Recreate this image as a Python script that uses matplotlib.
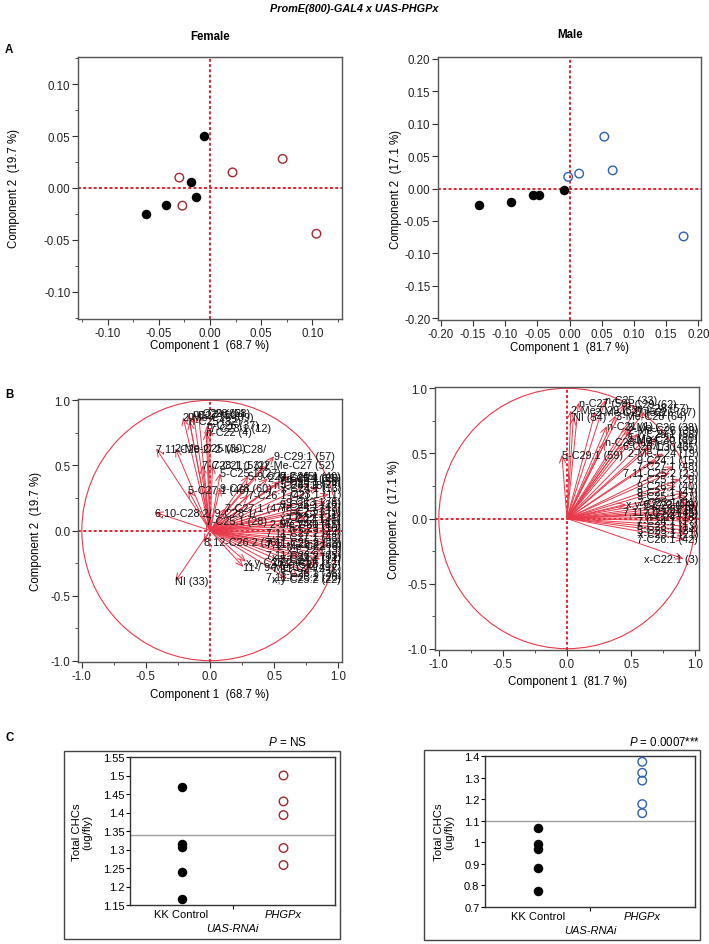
import numpy as np
import matplotlib
matplotlib.use("Agg")
import matplotlib.pyplot as plt
from matplotlib.patches import Rectangle, Circle
from matplotlib.ticker import MultipleLocator, FormatStrFormatter

plt.rcParams['font.family'] = ['Liberation Sans', 'DejaVu Sans']
plt.rcParams['mathtext.fontset'] = 'custom'
plt.rcParams['mathtext.it'] = 'Liberation Sans:italic'
plt.rcParams['mathtext.rm'] = 'Liberation Sans'

# ---- A: PCA scores ----
fem_ctrl_pc1 = [-0.063, -0.043, -0.019, -0.014, -0.006]
fem_ctrl_pc2 = [-0.025, -0.016, 0.006, -0.009, 0.050]
fem_rnai_pc1 = [-0.030, -0.027, 0.022, 0.071, 0.104]
fem_rnai_pc2 = [0.010, -0.017, 0.015, 0.028, -0.044]
male_ctrl_pc1 = [-0.140, -0.090, -0.056, -0.047, -0.008]
male_ctrl_pc2 = [-0.026, -0.021, -0.010, -0.010, -0.003]
male_rnai_pc1 = [-0.002, 0.015, 0.054, 0.067, 0.177]
male_rnai_pc2 = [0.018, 0.023, 0.080, 0.028, -0.074]
fem_var = [68.7, 19.7]
male_var = [81.7, 17.1]

# ---- B: loadings ----
fem_load_labels = [
    "n-C27 (50)", "n-C29 (62)", "2-Me-C26 (39)", "n-C25 (32)", "n-C28 (58)",
    "n-C26 (37)", "7-C23:1 (12)", "n-C22 (4)", "7,11-C29:2/ 2-Me-C28/",
    "2-Me-C25 (30)", "9-C29:1 (57)", "7-C28:1 (53)", "7-C21:1 (2)",
    "2-Me-C27 (52)", "5-C25:1 (27)", "5,9-C27:2 (45)", "2-Me-C24 (19)",
    "7-C29:1 (56)", "n-C24 (18)", "5-C27:1 (46)", "9-C28 (60)",
    "7-C26:1 (42)", "6,10-C28:2/ 9-C28:1/", "7-C25:1 (28)", "7-C27:1 (47)",
    "9-C25:1 (26)", "5-C23:1 (9)", "8,12-C26:2 (36)", "NI (33)",
    "x,y-C26:2 (41)", "11-/ 9-Me-C27 (49)",
    "7-C23:1 (11)", "9-C23:1 (8)", "7-C24:1 (17)", "n-C21 (1)",
    "7-C22:1 (5)", "9-C24:1 (15)", "n-C23 (10)", "7,11-C27:2 (44)",
    "9-C27:1 (48)", "7,11-C25:2 (23)", "2-Me-C22 (6)", "x-C22:1 (3)",
    "7,11-C26:2 (35)", "5-C24:1 (14)", "2-Me-C23 (13)", "7,11-C24:2 (7)",
    "5-C26:1 (38)", "7,11-C23:2 (20)", "x,y-C25:2 (22)", "x-C24:1 (16)",
    "5-C25:1 (24)", "7-C25:1 (25)", "9-C26:1 (40)", "2-Me-C30 (61)",
    "7,11-C28:2 (55)", "x-C23:1 (21)", "x,y-C27:2 (51)",
]
fem_load_x = [
    -0.17, -0.13, -0.21, -0.16, -0.09,
    -0.02, 0.00, -0.03, -0.42,
    -0.27, 0.50, -0.06, 0.02,
    0.42, 0.08, 0.30, 0.45,
    0.55, 0.50, -0.17, 0.08,
    0.30, -0.43, -0.03, 0.12,
    0.65, 0.70, -0.05, -0.27,
    0.28, 0.26,
    0.93, 0.90, 0.95, 0.92,
    0.96, 0.94, 0.97, 0.93,
    0.95, 0.91, 0.93, 0.88,
    0.90, 0.86, 0.84, 0.80,
    0.78, 0.70, 0.60, 0.85,
    0.78, 0.70, 0.62, 0.60,
    0.55, 0.75, 0.70,
]
fem_load_y = [
    0.89, 0.90, 0.87, 0.84, 0.90,
    0.81, 0.79, 0.76, 0.63,
    0.63, 0.57, 0.50, 0.50,
    0.50, 0.44, 0.42, 0.40,
    0.38, 0.35, 0.31, 0.33,
    0.27, 0.14, 0.07, 0.17,
    0.20, 0.15, -0.09, -0.39,
    -0.24, -0.28,
    0.28, 0.22, 0.18, 0.13,
    0.09, 0.05, 0.02, -0.02,
    -0.05, -0.09, -0.12, -0.15,
    -0.19, -0.22, -0.26, -0.29,
    -0.33, -0.36, -0.37, 0.33,
    0.36, 0.40, 0.42, 0.05,
    -0.10, 0.10, -0.20,
]

male_load_labels = [
    "n-C27 (50)", "n-C25 (33)", "2-Me-C29 (63)", "NI (54)", "n-C29 (62)",
    "n-C28 (57)", "n-C26 (37)", "3-Me-C28 (64)", "2-Me-C27 (52)",
    "n-C21 (1)", "2-Me-C26 (38)", "2-Me-C26 (39)", "n-C23 (14)",
    "6-C26:1/ i (43)", "5-C29:1 (59)", "7-C27:1 (48)", "7-C25:1 (29)",
    "9-C27:1 (47)", "9-C25:1 (27)", "x,y-C27:2 (44)", "7-C23:1 (11)",
    "9-C23:1 (8)", "n-C22 (4)", "7-C22:1 (5)", "n-C24 (18)",
    "7-C24:1 (17)", "5-C23:1 (13)", "5-C25:1 (24)", "7-C26:1 (42)",
    "x-C22:1 (3)", "2-Me-C24 (19)", "9-C24:1 (15)", "7,11-C25:2 (23)",
    "n-C30 (65)", "2-Me-C30 (61)", "7-C29:1 (56)", "2-Me-C25 (30)",
    "9-C26:1 (40)", "7,11-C27:2 (45)", "x-C23:1 (21)",
]
male_load_x = [
    0.09, 0.30, 0.03, 0.05, 0.45,
    0.55, 0.60, 0.38, 0.22,
    0.31, 0.48, 0.50, 0.30,
    0.44, -0.04, 0.83, 0.88,
    0.92, 0.94, 0.46, 0.96,
    0.97, 0.95, 0.96, 0.97,
    0.96, 0.95, 0.94, 0.92,
    0.91, 0.75, 0.70, 0.80,
    0.65, 0.60, 0.55, 0.70,
    0.85, 0.90, 0.93,
]
male_load_y = [
    0.89, 0.91, 0.83, 0.78, 0.88,
    0.85, 0.82, 0.79, 0.82,
    0.71, 0.70, 0.68, 0.59,
    0.56, 0.49, 0.40, 0.30,
    0.20, 0.17, 0.11, 0.13,
    0.10, 0.07, 0.04, 0.01,
    -0.02, -0.06, -0.09, -0.16,
    -0.31, 0.50, 0.45, 0.35,
    0.55, 0.60, 0.65, 0.62,
    0.25, 0.05, -0.12,
]

# ---- C: total CHCs ----
groups = ["KK Control", "PHGPx"]
fem_total_ctrl = [1.470, 1.314, 1.307, 1.240, 1.165]
fem_total_rnai = [1.500, 1.430, 1.393, 1.304, 1.258]
male_total_ctrl = [1.067, 0.990, 0.970, 0.879, 0.773]
male_total_rnai = [1.373, 1.322, 1.286, 1.177, 1.135]

RED_LINE = '#e3242f'
ARROW = '#e8394a'
DARKRED = '#a3282f'
BLUE = '#2f5fb5'
SPINE = '#555555'

W, H = 709, 945
fig = plt.figure(figsize=(W / 100, H / 100), dpi=100)


def box(l, t, r, b):
    return [l / W, 1 - b / H, (r - l) / W, (b - t) / H]


def style_axes(ax, col=SPINE):
    for s in ax.spines.values():
        s.set_color(col)
        s.set_linewidth(1.0)
    ax.tick_params(which='both', direction='out', colors='#333333',
                   labelsize=8.3, pad=1.5)
    ax.tick_params(which='major', length=4)
    ax.tick_params(which='minor', length=2.5)
    ax.tick_params(labelcolor='#222222')


def score_panel(ax, cx, cy, tx, ty, tcol, lim, var, minor):
    ax.axhline(0, color=RED_LINE, lw=1.4, ls=(0, (1.5, 1.2)), zorder=1)
    ax.axvline(0, color=RED_LINE, lw=1.4, ls=(0, (1.5, 1.2)), zorder=1)
    ax.scatter(cx, cy, s=34, color='black', zorder=3)
    ax.scatter(tx, ty, s=38, facecolor='none', edgecolor=tcol, lw=1.0, zorder=3)
    ax.set_xlim(-lim[0], lim[0])
    ax.set_ylim(-lim[1], lim[1])
    ax.xaxis.set_major_locator(MultipleLocator(0.05))
    ax.yaxis.set_major_locator(MultipleLocator(0.05))
    if minor:
        ax.xaxis.set_minor_locator(MultipleLocator(0.025))
        ax.yaxis.set_minor_locator(MultipleLocator(0.025))
    ax.xaxis.set_major_formatter(FormatStrFormatter('%.2f'))
    ax.yaxis.set_major_formatter(FormatStrFormatter('%.2f'))
    ax.set_xlabel(f"Component 1  ({var[0]} %)", fontsize=8.3)
    ax.set_ylabel(f"Component 2  ({var[1]} %)", fontsize=8.3)
    style_axes(ax)


def loading_panel(ax, labels, xs, ys, var):
    ax.add_patch(Circle((0, 0), 1.0, fill=False, ec=ARROW, lw=0.8, zorder=1))
    ax.axhline(0, color=RED_LINE, lw=1.4, ls=(0, (1.5, 1.2)), zorder=1)
    ax.axvline(0, color=RED_LINE, lw=1.4, ls=(0, (1.5, 1.2)), zorder=1)
    texts = []
    for lab, x, y in zip(labels, xs, ys):
        ax.annotate("", xy=(x, y), xytext=(0, 0),
                    arrowprops=dict(arrowstyle='->,head_length=0.5,head_width=0.22',
                                    color=ARROW, lw=0.7, shrinkA=0, shrinkB=0),
                    zorder=2)
        texts.append(ax.text(x, y, lab, fontsize=7.8, ha='left', va='center',
                             color='#111111', zorder=3))
    ax.set_xlim(-1.03, 1.03)
    ax.set_ylim(-1.01, 1.01)
    ax.xaxis.set_major_locator(MultipleLocator(0.5))
    ax.yaxis.set_major_locator(MultipleLocator(0.5))
    ax.xaxis.set_minor_locator(MultipleLocator(0.25))
    ax.yaxis.set_minor_locator(MultipleLocator(0.25))
    ax.xaxis.set_major_formatter(FormatStrFormatter('%.1f'))
    ax.yaxis.set_major_formatter(FormatStrFormatter('%.1f'))
    ax.set_xlabel(f"Component 1  ({var[0]} %)", fontsize=8.3)
    ax.set_ylabel(f"Component 2  ({var[1]} %)", fontsize=8.3)
    style_axes(ax)
    return texts


def keep_inside(ax, texts):
    r = fig.canvas.get_renderer()
    right = ax.get_window_extent(r).x1 - 1
    for t in texts:
        bb = t.get_window_extent(r)
        if bb.x1 > right:
            x0, y0 = t.get_position()
            px, py = ax.transData.transform((x0, y0))
            nx = ax.transData.inverted().transform((px - (bb.x1 - right), py))[0]
            t.set_x(nx)


def total_panel(ax, ctrl, rnai, tcol, ylim, step):
    allv = list(ctrl) + list(rnai)
    ax.axhline(np.mean(allv), color='#a0a0a0', lw=1.0, zorder=1)
    ax.scatter([0] * len(ctrl), ctrl, s=34, color='black', zorder=3)
    ax.scatter([1] * len(rnai), rnai, s=38, facecolor='none', edgecolor=tcol,
               lw=1.0, zorder=3)
    ax.set_xlim(-0.505, 1.505)
    ax.set_ylim(*ylim)
    ax.yaxis.set_major_locator(MultipleLocator(step))
    ax.yaxis.set_major_formatter(FormatStrFormatter('%g'))
    ax.set_xticks([0.5])
    ax.set_xticklabels([""])
    ax.set_xticks([0, 1], minor=True)
    ax.set_xticklabels(groups, minor=True)
    ax.tick_params(axis='x', which='minor', length=0, labelsize=8, pad=3)
    for s in ax.spines.values():
        s.set_color('#333333')
        s.set_linewidth(1.0)
    ax.tick_params(axis='y', direction='out', length=3, labelsize=8, pad=1)
    ax.tick_params(axis='x', which='major', direction='out', length=3)
    ax.get_xticklabels(minor=True)[1].set_style('italic')
    ax.set_ylabel("Total CHCs\n(ug/fly)", fontsize=8.2, linespacing=1.0)
    ax.set_xlabel("UAS-RNAi", fontsize=8, style='italic', labelpad=3)


# Panel A
axA1 = fig.add_axes(box(78, 58, 342, 320))
score_panel(axA1, fem_ctrl_pc1, fem_ctrl_pc2, fem_rnai_pc1, fem_rnai_pc2,
            DARKRED, (0.129, 0.126), fem_var, True)
axA1.yaxis.set_label_coords(-0.22, 0.5)
axA1.xaxis.set_label_coords(0.5, -0.078)

axA2 = fig.add_axes(box(438, 58, 701, 321))
score_panel(axA2, male_ctrl_pc1, male_ctrl_pc2, male_rnai_pc1, male_rnai_pc2,
            BLUE, (0.204, 0.203), male_var, False)
axA2.yaxis.set_label_coords(-0.135, 0.5)
axA2.xaxis.set_label_coords(0.5, -0.078)

# Panel B
axB1 = fig.add_axes(box(78, 400, 342, 663))
t1 = loading_panel(axB1, fem_load_labels, fem_load_x, fem_load_y, fem_var)
axB1.yaxis.set_label_coords(-0.135, 0.5)
axB1.xaxis.set_label_coords(0.5, -0.098)

axB2 = fig.add_axes(box(435, 388, 699, 651))
t2 = loading_panel(axB2, male_load_labels, male_load_x, male_load_y, male_var)
axB2.yaxis.set_label_coords(-0.133, 0.5)
axB2.xaxis.set_label_coords(0.5, -0.095)

# Panel C
axC1 = fig.add_axes(box(130, 758, 335, 906))
total_panel(axC1, fem_total_ctrl, fem_total_rnai, DARKRED, (1.15, 1.55), 0.05)
axC1.yaxis.set_label_coords(-0.185, 0.5)

axC2 = fig.add_axes(box(485, 757, 695, 908))
total_panel(axC2, male_total_ctrl, male_total_rnai, BLUE, (0.7, 1.4), 0.1)
axC2.yaxis.set_label_coords(-0.148, 0.5)

for (l, t, r, b) in [(64, 752, 340, 940), (424, 751, 700, 941)]:
    fig.add_artist(Rectangle((l / W, 1 - b / H), (r - l) / W, (b - t) / H,
                             transform=fig.transFigure, fill=False,
                             ec='#444444', lw=1.0))

fig.text(287 / W, 1 - 742 / H, r"$\mathit{P}$ = NS", fontsize=8.5, ha='center', va='center')
fig.text(700 / W, 1 - 742 / H, r"$\mathit{P}$ = 0.0007***", fontsize=8.3, ha='right', va='center')

# titles and panel letters
fig.text(0.5, 1 - 9 / H, "PromE(800)-GAL4 x UAS-PHGPx", fontsize=7.8,
         weight='bold', style='italic', ha='center', va='center')
fig.text(210 / W, 1 - 37 / H, "Female", fontsize=8.3, weight='bold', ha='center', va='center')
fig.text(570 / W, 1 - 35 / H, "Male", fontsize=8.3, weight='bold', ha='center', va='center')
for lab, y in [("A", 50), ("B", 395), ("C", 738)]:
    fig.text(5 / W, 1 - y / H, lab, fontsize=8.3, weight='bold', ha='left', va='center')

fig.canvas.draw()
keep_inside(axB1, t1)
keep_inside(axB2, t2)

fig.savefig("out.png", dpi=100)
